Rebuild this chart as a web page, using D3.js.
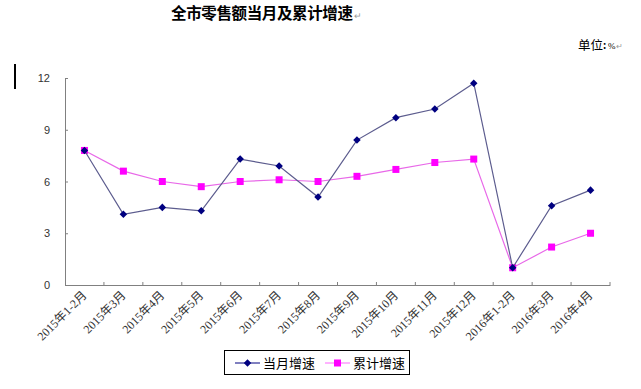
<!DOCTYPE html>
<html lang="zh">
<head>
<meta charset="UTF-8">
<title>全市零售额当月及累计增速</title>
<script src="https://d3js.org/d3.v7.min.js"></script>
<style>
  body { margin: 0; background: #fff; }
</style>
</head>
<body>
<div id="chart"></div>
<script>
    // données
    const months = ["2015年1-2月","2015年3月","2015年4月","2015年5月","2015年6月","2015年7月","2015年8月",
                    "2015年9月","2015年10月","2015年11月","2015年12月","2016年1-2月","2016年3月","2016年4月"];
    const dangyue = [7.8, 4.1, 4.5, 4.3, 7.3, 6.9, 5.1, 8.4, 9.7, 10.2, 11.7, 1.0, 4.6, 5.5];
    const leiji   = [7.8, 6.6, 6.0, 5.7, 6.0, 6.1, 6.0, 6.3, 6.7, 7.1, 7.3, 1.0, 2.2, 3.0];
    const yTicks = [0, 3, 6, 9, 12];

    let width = 641, height = 389,
        plotL = 65, plotR = 610, plotT = 78, plotB = 285,
        cjk = "'Noto Sans CJK SC', sans-serif";

    let svg = d3.select('#chart').append('svg')
        .attr("width", width)
        .attr("height", height);

    let x = d3.scaleBand(months, [plotL, plotR]),
        y = d3.scaleLinear([0, 12], [plotB, plotT]);

    // titre
    svg.append("text").attr("x", 171).attr("y", 19)
        .style("font", `bold 15.5px ${cjk}`).attr("fill", "#000")
        .attr("textLength", 182)
        .text("全市零售额当月及累计增速");
    svg.append("text").attr("x", 354).attr("y", 19)
        .style("font", "9px sans-serif").attr("fill", "#999").text("↵");
    svg.append("text").attr("x", 578).attr("y", 50)
        .style("font", `12.5px ${cjk}`).attr("fill", "#000").text("单位");
    svg.append("text").attr("x", 603).attr("y", 49)
        .style("font", `bold 10px ${cjk}`).attr("fill", "#000").text(":");
    svg.append("text").attr("x", 608).attr("y", 49)
        .style("font", "9px 'Liberation Serif'").attr("fill", "#000").text("%");
    svg.append("text").attr("x", 616).attr("y", 49)
        .style("font", "8px sans-serif").attr("fill", "#999").text("↵");
    // curseur
    svg.append("rect").attr("x", 14).attr("y", 64).attr("width", 2).attr("height", 25).attr("fill", "#000");

    // axe Y
    let gy = svg.append("g").attr("transform", `translate(${plotL},0)`)
        .call(d3.axisRight(y).tickValues(yTicks).tickSize(3).tickFormat(""));
    gy.select(".domain").attr("stroke", "#808080");
    gy.selectAll(".tick line").attr("stroke", "#808080");
    svg.append("g").selectAll("text").data(yTicks).enter().append("text")
        .attr("x", 50).attr("y", d => y(d) + 4)
        .attr("text-anchor", "end")
        .style("font", "11px 'Liberation Sans', Arial, sans-serif").attr("fill", "#333")
        .text(d => d);

    // axe X
    let gx = svg.append("g").attr("transform", `translate(0,${plotB})`)
        .call(d3.axisTop(x).tickSize(0).tickFormat(""));
    gx.select(".domain").attr("stroke", "#808080");
    svg.append("g").selectAll("line").data(months.slice(1)).enter().append("line")
        .attr("x1", d => x(d)).attr("x2", d => x(d))
        .attr("y1", plotB).attr("y2", plotB - 3)
        .attr("stroke", "#808080");
    svg.append("line").attr("x1", plotR).attr("x2", plotR).attr("y1", plotB).attr("y2", plotB - 3).attr("stroke", "#808080");
    svg.append("g").selectAll("text").data(months).enter().append("text")
        .attr("transform", d => `translate(${x(d) + x.bandwidth() / 2 + 3},${plotB + 11}) rotate(-45)`)
        .attr("text-anchor", "end")
        .style("font", `12px 'Liberation Serif', 'Noto Sans CJK SC', serif`).attr("fill", "#333")
        .text(d => d);

    let cx = (d, i) => x(months[i]) + x.bandwidth() / 2;
    let line = d3.line().x(cx).y(d => y(d));

    // 累计增速
    svg.append("path").datum(leiji).attr("d", line)
        .attr("fill", "none").attr("stroke", "#e868e8").attr("stroke-width", 1.2);
    svg.append("g").selectAll("rect").data(leiji).enter().append("rect")
        .attr("x", (d, i) => cx(d, i) - 3.5).attr("y", d => y(d) - 3.5)
        .attr("width", 7).attr("height", 7).attr("fill", "#ff00ff");

    // 当月增速
    let diamond = d3.symbol().type(d3.symbolDiamond2).size(36);
    svg.append("path").datum(dangyue).attr("d", line)
        .attr("fill", "none").attr("stroke", "#5c5c8e").attr("stroke-width", 1.2);
    svg.append("g").selectAll("path").data(dangyue).enter().append("path")
        .attr("d", diamond)
        .attr("transform", (d, i) => `translate(${cx(d, i)},${y(d)})`)
        .attr("fill", "#000080");

    // légende
    let lg = svg.append("g");
    lg.append("rect").attr("x", 224.5).attr("y", 350.5).attr("width", 185).attr("height", 24)
        .attr("fill", "#fff").attr("stroke", "#000");
    lg.append("line").attr("x1", 235).attr("x2", 260).attr("y1", 363).attr("y2", 363).attr("stroke", "#000080");
    lg.append("path").attr("d", diamond).attr("transform", "translate(247.5,363)").attr("fill", "#000080");
    lg.append("text").attr("x", 263).attr("y", 368).style("font", `13px ${cjk}`).attr("fill", "#000").text("当月增速");
    lg.append("line").attr("x1", 325).attr("x2", 350).attr("y1", 363).attr("y2", 363).attr("stroke", "#ff66ff");
    lg.append("rect").attr("x", 334).attr("y", 359.5).attr("width", 7).attr("height", 7).attr("fill", "#ff00ff");
    lg.append("text").attr("x", 353).attr("y", 368).style("font", `13px ${cjk}`).attr("fill", "#000").text("累计增速");
</script>
</body>
</html>
